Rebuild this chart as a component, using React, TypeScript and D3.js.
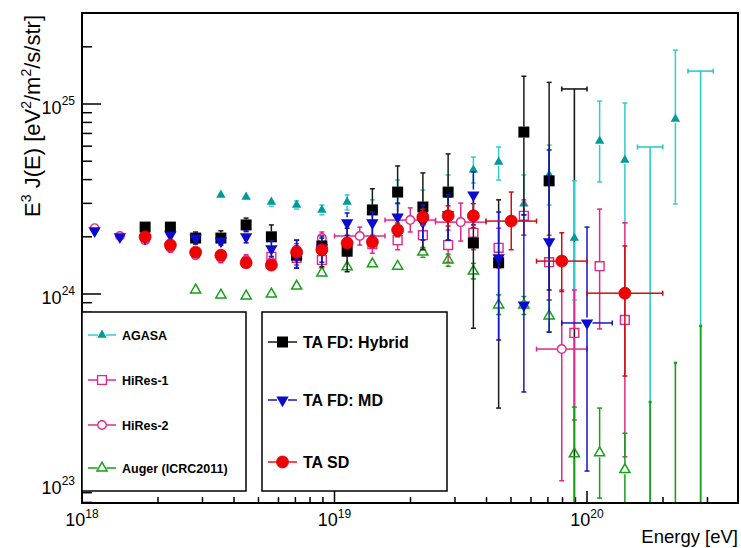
import React from 'react';
import * as d3 from 'd3';

// Energies: log10(E / eV). Flux: E^3 J(E) in units of 1e24 eV^2/m^2/s/str.
const agasaLogE = [18.55, 18.65, 18.75, 18.85, 18.95, 19.05, 19.15, 19.25, 19.35, 19.45, 19.55, 19.65, 19.75, 19.85, 19.95, 20.05, 20.15, 20.35];
const agasaJ = [3.32, 3.24, 3.05, 2.94, 2.77, 3.05, 2.77, 3.44, 2.87, 3.32, 4.5, 4.95, 2.98, 4.23, 1.97, 6.39, 5.07, 8.34];
const agasaLo = [3.2, 3.12, 2.9, 2.8, 2.61, 2.77, 2.45, 2.98, 2.31, 2.5, 3.84, 3.98, 2.04, 2.94, 0.93, 3.89, 2.37, 2.98];
const agasaHi = [3.44, 3.36, 3.2, 3.09, 2.94, 3.32, 3.13, 3.98, 3.53, 4.23, 5.26, 5.94, 4.23, 6.08, 3.94, 10.37, 10.12, 19.2];
const agasaLimitLogE = [20.25, 20.45];
const agasaLimit = [5.94, 14.9];

const hires1LogE = [18.75, 18.85, 18.95, 19.05, 19.15, 19.25, 19.35, 19.45, 19.55, 19.65, 19.75, 19.85, 19.95, 20.05, 20.15];
const hires1J = [1.57, 1.55, 1.51, 1.75, 1.83, 1.92, 2.04, 1.81, 2.1, 1.75, 2.58, 1.47, 0.624, 1.4, 0.73];
const hires1Lo = [1.46, 1.42, 1.37, 1.585, 1.64, 1.71, 1.75, 1.47, 1.71, 1.37, 2.04, 0.93, 0.217, 0.655, 0.139];
const hires1Hi = [1.68, 1.68, 1.66, 1.92, 2.04, 2.17, 2.39, 2.17, 2.5, 2.22, 3.13, 2.04, 1.05, 2.8, 2.37];

const hires2LogE = [18.05, 18.15, 18.25, 18.35, 18.45, 18.55, 18.65, 18.75, 18.85, 18.95, 19.1, 19.3, 19.5, 19.9];
const hires2J = [2.22, 2.02, 1.92, 1.75, 1.6, 1.55, 1.51, 1.47, 1.71, 1.97, 2.02, 2.45, 2.39, 0.513];
const hires2Lo = [2.11, 1.92, 1.83, 1.66, 1.52, 1.46, 1.42, 1.37, 1.59, 1.83, 1.81, 2.12, 1.9, 0.104];
const hires2Hi = [2.33, 2.12, 2.02, 1.84, 1.68, 1.65, 1.61, 1.58, 1.84, 2.12, 2.25, 2.84, 3.01, 1.05];
const hires2BinLo = [null, null, null, null, null, null, null, null, null, null, 19.0, 19.2, 19.4, 19.8];
const hires2BinHi = [null, null, null, null, null, null, null, null, null, null, 19.2, 19.4, 19.6, 20.0];

const augerLogE = [18.45, 18.55, 18.65, 18.75, 18.85, 18.95, 19.05, 19.15, 19.25, 19.35, 19.45, 19.55, 19.65, 19.75, 19.85, 19.95, 20.05, 20.15];
const augerJ = [1.05, 0.988, 0.976, 1.0, 1.1, 1.29, 1.39, 1.44, 1.4, 1.66, 1.51, 1.32, 0.875, 0.875, 0.766, 0.144, 0.146, 0.119];
const augerLo = [1.01, 0.95, 0.94, 0.965, 1.06, 1.24, 1.33, 1.37, 1.33, 1.56, 1.4, 1.2, 0.78, 0.78, 0.63, 0.04, 0.0843, 0.04];
const augerHi = [1.09, 1.025, 1.01, 1.04, 1.14, 1.34, 1.45, 1.51, 1.47, 1.76, 1.62, 1.45, 0.99, 0.97, 0.93, 0.254, 0.251, 0.185];
const augerLimitLogE = [20.25, 20.35, 20.45];
const augerLimit = [0.27, 0.434, 0.679];

const hybridLogE = [18.25, 18.35, 18.45, 18.55, 18.65, 18.75, 18.85, 18.95, 19.05, 19.15, 19.25, 19.35, 19.45, 19.55, 19.65, 19.75, 19.85];
const hybridJ = [2.25, 2.25, 1.97, 1.97, 2.31, 2.0, 1.6, 1.79, 1.68, 2.77, 3.44, 2.87, 3.44, 1.855, 1.46, 7.12, 3.94];
const hybridLo = [2.12, 2.12, 1.83, 1.81, 2.13, 1.73, 1.37, 1.39, 1.31, 1.97, 2.28, 1.71, 1.92, 0.66, 0.251, 2.61, 1.05];
const hybridHi = [2.39, 2.39, 2.12, 2.15, 2.51, 2.31, 1.92, 1.97, 2.22, 3.58, 4.72, 4.34, 5.46, 3.32, 3.13, 14.0, 13.0];
const hybridLimitLogE = [19.95];
const hybridLimit = [12.0];

const mdLogE = [18.05, 18.15, 18.25, 18.35, 18.45, 18.55, 18.65, 18.75, 18.85, 18.95, 19.05, 19.15, 19.25, 19.35, 19.45, 19.55, 19.65, 19.75, 19.85, 20.0];
const mdJ = [2.15, 2.0, 1.97, 2.04, 1.97, 1.9, 2.0, 1.73, 1.585, 1.75, 2.37, 2.37, 2.54, 2.39, 2.61, 3.32, 1.55, 0.875, 1.88, 0.704];
const mdLo = [2.05, 1.9, 1.88, 1.94, 1.86, 1.79, 1.86, 1.57, 1.37, 1.47, 2.04, 2.0, 2.25, 1.92, 1.92, 2.31, 0.573, 0.305, 0.63, 0.117];
const mdHi = [2.26, 2.1, 2.07, 2.14, 2.09, 2.02, 2.15, 1.91, 1.92, 2.02, 2.67, 2.7, 3.01, 2.94, 3.32, 4.39, 2.7, 2.61, 5.73, 2.25];
const mdBinLo = [null, null, null, null, null, null, null, null, null, null, null, null, null, null, null, null, null, null, null, 19.9];
const mdBinHi = [null, null, null, null, null, null, null, null, null, null, null, null, null, null, null, null, null, null, null, 20.1];

const sdLogE = [18.25, 18.35, 18.45, 18.55, 18.65, 18.75, 18.85, 18.95, 19.05, 19.15, 19.25, 19.35, 19.45, 19.55, 19.7, 19.9, 20.15];
const sdJ = [2.0, 1.81, 1.66, 1.6, 1.46, 1.42, 1.66, 1.71, 1.855, 1.88, 2.17, 2.54, 2.58, 2.58, 2.42, 1.49, 1.01];
const sdLo = [1.93, 1.75, 1.6, 1.54, 1.41, 1.37, 1.58, 1.63, 1.75, 1.75, 2.0, 2.3, 2.28, 2.23, 1.71, 1.03, 0.37];
const sdHi = [2.07, 1.88, 1.72, 1.66, 1.51, 1.47, 1.74, 1.8, 1.97, 2.02, 2.36, 2.8, 2.91, 2.99, 3.44, 2.1, 1.79];
const sdBinLo = [null, null, null, null, null, null, null, null, null, null, null, null, null, null, 19.6, 19.8, 20.0];
const sdBinHi = [null, null, null, null, null, null, null, null, null, null, null, null, null, null, 19.8, 20.0, 20.3];

const yLabelTicks = [1e23, 1e24, 1e25];
const xLabelTicks = [1e18, 1e19, 1e20];

const legend1 = ['AGASA', 'HiRes-1', 'HiRes-2', 'Auger (ICRC2011)'];
const legend2 = ['TA FD: Hybrid', 'TA FD: MD', 'TA SD'];

// ---------- layout ----------
const W = 741;
const H = 548;
const X0 = 82, X1 = 738, Y0 = 13, Y1 = 503;
const UNIT = 1e24;
const FONT = "'Liberation Sans', Arial, Helvetica, sans-serif";

const x = d3.scaleLog().domain([1e18, Math.pow(10, 20.598)]).range([X0, X1]);
const y = d3.scaleLog().domain([Math.pow(10, 22.9), Math.pow(10, 25.479)]).range([Y1, Y0]);
const ex = (l: number) => x(Math.pow(10, l));
const ey = (j: number) => y(j * UNIT);

const sym = (t: d3.SymbolType, size: number) => d3.symbol().type(t).size(size)() as string;

type MarkerDef = { path: string; fill: string; stroke: string; sw: number; rot: number; r: number };
const MARKERS: Record<string, MarkerDef> = {
  agasa: { path: sym(d3.symbolTriangle, 38), fill: '#009a9a', stroke: 'none', sw: 0, rot: 0, r: 4 },
  hires1: { path: sym(d3.symbolSquare, 78), fill: 'none', stroke: '#e0288c', sw: 1.4, rot: 0, r: 4.5 },
  hires2: { path: sym(d3.symbolCircle, 58), fill: 'none', stroke: '#e0288c', sw: 1.4, rot: 0, r: 4.3 },
  auger: { path: sym(d3.symbolTriangle, 44), fill: 'none', stroke: '#16a016', sw: 1.5, rot: 0, r: 4.5 },
  hybrid: { path: sym(d3.symbolSquare, 121), fill: '#000000', stroke: 'none', sw: 0, rot: 0, r: 5.5 },
  md: { path: sym(d3.symbolTriangle, 66), fill: '#0a0ad0', stroke: 'none', sw: 0, rot: 180, r: 5.5 },
  sd: { path: sym(d3.symbolCircle, 113), fill: '#f00000', stroke: '#d00000', sw: 0.8, rot: 0, r: 6 },
};

type Series = {
  key: string;
  logE: number[];
  J: number[];
  lo: number[];
  hi: number[];
  binLo?: (number | null)[];
  binHi?: (number | null)[];
  bar: string;
};

const SERIES: Series[] = [
  { key: 'agasa', logE: agasaLogE, J: agasaJ, lo: agasaLo, hi: agasaHi, bar: '#33cccc' },
  { key: 'hires1', logE: hires1LogE, J: hires1J, lo: hires1Lo, hi: hires1Hi, bar: '#e0288c' },
  { key: 'hires2', logE: hires2LogE, J: hires2J, lo: hires2Lo, hi: hires2Hi, binLo: hires2BinLo, binHi: hires2BinHi, bar: '#e0288c' },
  { key: 'auger', logE: augerLogE, J: augerJ, lo: augerLo, hi: augerHi, bar: '#16a016' },
  { key: 'hybrid', logE: hybridLogE, J: hybridJ, lo: hybridLo, hi: hybridHi, bar: '#1a1a1a' },
  { key: 'md', logE: mdLogE, J: mdJ, lo: mdLo, hi: mdHi, binLo: mdBinLo, binHi: mdBinHi, bar: '#1515c8' },
  { key: 'sd', logE: sdLogE, J: sdJ, lo: sdLo, hi: sdHi, binLo: sdBinLo, binHi: sdBinHi, bar: '#cc1010' },
];

function Marker({ kind, cx, cy }: { kind: string; cx: number; cy: number }) {
  const m = MARKERS[kind];
  return (
    <path
      d={m.path}
      transform={`translate(${cx},${cy}) rotate(${m.rot})`}
      fill={m.fill}
      stroke={m.stroke}
      strokeWidth={m.sw}
    />
  );
}

const CAP = 2.5;

function SeriesMarks({ s }: { s: Series }) {
  const m = MARKERS[s.key];
  const gap = m.r;
  const bars: React.ReactNode[] = [];
  s.logE.forEach((l, i) => {
    const cx = ex(l);
    const cy = ey(s.J[i]);
    const yt = ey(s.hi[i]);
    const yb = ey(s.lo[i]);
    const sw = 1.5;
    if (cy - gap > yt) {
      bars.push(<line key={`t${i}`} x1={cx} x2={cx} y1={yt} y2={cy - gap} stroke={s.bar} strokeWidth={sw} />);
      bars.push(<line key={`tc${i}`} x1={cx - CAP} x2={cx + CAP} y1={yt} y2={yt} stroke={s.bar} strokeWidth={sw} />);
    }
    if (yb > cy + gap) {
      bars.push(<line key={`b${i}`} x1={cx} x2={cx} y1={cy + gap} y2={yb} stroke={s.bar} strokeWidth={sw} />);
      bars.push(<line key={`bc${i}`} x1={cx - CAP} x2={cx + CAP} y1={yb} y2={yb} stroke={s.bar} strokeWidth={sw} />);
    }
    const bl = s.binLo ? s.binLo[i] : null;
    const bh = s.binHi ? s.binHi[i] : null;
    if (bl != null && bh != null) {
      const xl = ex(bl);
      const xh = ex(bh);
      bars.push(<line key={`l${i}`} x1={xl} x2={cx - gap} y1={cy} y2={cy} stroke={s.bar} strokeWidth={sw} />);
      bars.push(<line key={`r${i}`} x1={cx + gap} x2={xh} y1={cy} y2={cy} stroke={s.bar} strokeWidth={sw} />);
      bars.push(<line key={`lc${i}`} x1={xl} x2={xl} y1={cy - CAP} y2={cy + CAP} stroke={s.bar} strokeWidth={sw} />);
      bars.push(<line key={`rc${i}`} x1={xh} x2={xh} y1={cy - CAP} y2={cy + CAP} stroke={s.bar} strokeWidth={sw} />);
    }
  });
  return (
    <g>
      {bars}
      {s.logE.map((l, i) => (
        <Marker key={`m${i}`} kind={s.key} cx={ex(l)} cy={ey(s.J[i])} />
      ))}
    </g>
  );
}

function BinLimits({ logE, vals, color }: { logE: number[]; vals: number[]; color: string }) {
  return (
    <g>
      {logE.map((l, i) => {
        const cx = ex(l);
        const xl = ex(l - 0.05);
        const xh = ex(l + 0.05);
        const yy = ey(vals[i]);
        return (
          <g key={i} stroke={color} strokeWidth={1.6}>
            <line x1={cx} x2={cx} y1={yy} y2={Y1 + 5} />
            <line x1={xl} x2={xh} y1={yy} y2={yy} />
            <line x1={xl} x2={xl} y1={yy - CAP} y2={yy + CAP} />
            <line x1={xh} x2={xh} y1={yy - CAP} y2={yy + CAP} />
          </g>
        );
      })}
    </g>
  );
}

function PointLimits({ logE, vals, color }: { logE: number[]; vals: number[]; color: string }) {
  return (
    <g>
      {logE.map((l, i) => {
        const cx = ex(l);
        const yy = ey(vals[i]);
        return (
          <g key={i} stroke={color} strokeWidth={1.6}>
            <line x1={cx} x2={cx} y1={yy} y2={Y1 + 5} />
            <line x1={cx - 1.5} x2={cx + 1.5} y1={yy} y2={yy} strokeWidth={2.5} />
          </g>
        );
      })}
    </g>
  );
}

const isMajor = (v: number) => Math.abs(Math.log10(v) - Math.round(Math.log10(v))) < 1e-6;
const expOf = (v: number) => String(Math.round(Math.log10(v)));

function LegendEntry({ kind, line, label, xl, xr, yy, fs }: { kind: string; line: string; label: string; xl: number; xr: number; yy: number; fs: number }) {
  const cx = (xl + xr) / 2;
  const m = MARKERS[kind];
  return (
    <g>
      <line x1={xl} x2={cx - m.r} y1={yy} y2={yy} stroke={line} strokeWidth={1.5} />
      <line x1={cx + m.r} x2={xr} y1={yy} y2={yy} stroke={line} strokeWidth={1.5} />
      <Marker kind={kind} cx={cx} cy={yy} />
      <text x={xr + 6} y={yy + fs * 0.36} fontSize={fs} fontWeight="bold" fill="#000">
        {label}
      </text>
    </g>
  );
}

export default function App() {
  const xt = x.ticks().filter((v) => x(v) > X0 + 0.5 && x(v) < X1 - 0.5);
  const yt = y.ticks().filter((v) => y(v) > Y0 + 0.5 && y(v) < Y1 - 0.5);
  const leg1Keys = ['agasa', 'hires1', 'hires2', 'auger'];
  const leg1Lines = ['#33cccc', '#e0288c', '#e0288c', '#16a016'];
  const leg1Y = [335, 380, 425, 468];
  const leg2Keys = ['hybrid', 'md', 'sd'];
  const leg2Lines = ['#1a1a1a', '#1515c8', '#ee1010'];
  const leg2Y = [342, 400, 462];

  return (
    <svg
      width={W}
      height={H}
      viewBox={`0 0 ${W} ${H}`}
      style={{ position: 'absolute', left: 0, top: 0, display: 'block', background: '#fff' }}
      fontFamily={FONT}
    >
      <defs>
        <clipPath id="plotClip">
          <rect x={X0} y={Y0} width={X1 - X0} height={Y1 - Y0} />
        </clipPath>
      </defs>
      <rect x={0} y={0} width={W} height={H} fill="#fff" />

      {/* ticks */}
      <g stroke="#000" strokeWidth={1.5}>
        {yt.map((v, i) => (
          <line key={`yt${i}`} x1={X0} x2={X0 + (isMajor(v) ? 19 : 10)} y1={y(v)} y2={y(v)} />
        ))}
        {xt.map((v, i) => (
          <line key={`xt${i}`} x1={x(v)} x2={x(v)} y1={Y1} y2={Y1 - (isMajor(v) ? 12 : 6)} />
        ))}
      </g>

      {/* data */}
      <g clipPath="url(#plotClip)">
        <BinLimits logE={agasaLimitLogE} vals={agasaLimit} color="#2fcaca" />
        <PointLimits logE={augerLimitLogE} vals={augerLimit} color="#16a016" />
        <BinLimits logE={hybridLimitLogE} vals={hybridLimit} color="#1a1a1a" />
        {SERIES.map((s) => (
          <SeriesMarks key={s.key} s={s} />
        ))}
      </g>

      {/* frame */}
      <rect x={X0} y={Y0} width={X1 - X0} height={Y1 - Y0} fill="none" stroke="#000" strokeWidth={2} />

      {/* tick labels */}
      {yLabelTicks.map((v, i) => (
        <text key={`yl${i}`} x={75} y={y(v) + 10} fontSize={18} textAnchor="end" fill="#000">
          10
          <tspan fontSize={12} dy={-9}>
            {expOf(v)}
          </tspan>
        </text>
      ))}
      {xLabelTicks.map((v, i) => (
        <text key={`xl${i}`} x={x(v)} y={526} fontSize={18} textAnchor="middle" fill="#000">
          10
          <tspan fontSize={12} dy={-8}>
            {expOf(v)}
          </tspan>
        </text>
      ))}

      {/* axis titles */}
      <text x={738} y={543} fontSize={18.5} textAnchor="end" fill="#000">
        Energy [eV]
      </text>
      <text transform={`translate(40,${Y0 + 2}) rotate(-90)`} fontSize={22} textAnchor="end" fill="#000">
        E<tspan fontSize={14} dy={-9}>3</tspan>
        <tspan dy={9}> J(E) [eV</tspan>
        <tspan fontSize={14} dy={-9}>2</tspan>
        <tspan dy={9}>/m</tspan>
        <tspan fontSize={14} dy={-9}>2</tspan>
        <tspan dy={9}>/s/str]</tspan>
      </text>

      {/* legends */}
      <rect x={82} y={312} width={164} height={179} fill="#fff" stroke="#000" strokeWidth={1.5} />
      {legend1.map((label, i) => (
        <LegendEntry key={label} kind={leg1Keys[i]} line={leg1Lines[i]} label={label} xl={88} xr={116} yy={leg1Y[i]} fs={12.5} />
      ))}
      <rect x={262} y={312} width={185} height={179} fill="#fff" stroke="#000" strokeWidth={1.5} />
      {legend2.map((label, i) => (
        <LegendEntry key={label} kind={leg2Keys[i]} line={leg2Lines[i]} label={label} xl={268} xr={297} yy={leg2Y[i]} fs={16} />
      ))}
    </svg>
  );
}
